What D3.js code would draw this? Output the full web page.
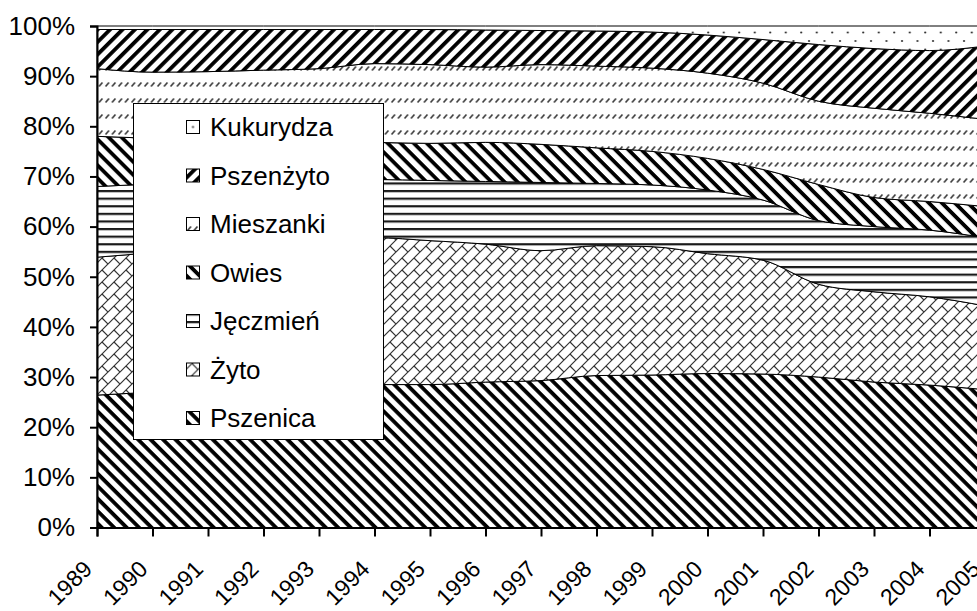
<!DOCTYPE html>
<html>
<head>
<meta charset="utf-8">
<script src="https://cdn.jsdelivr.net/npm/d3@7"></script>
<style>
  html, body { margin: 0; padding: 0; background: #ffffff; }
  svg { display: block; font-family: Arial, "Liberation Sans", sans-serif; }
</style>
</head>
<body>
<div id="chart"></div>
<script>
const years = [1989, 1990, 1991, 1992, 1993, 1994, 1995, 1996, 1997, 1998, 1999, 2000, 2001, 2002, 2003, 2004, 2005];

// shares of each crop in the total sown area, %
const pszenica  = [26.4, 27.0, 27.6, 28.0, 28.3, 28.5, 28.5, 29.0, 29.3, 30.3, 30.4, 30.7, 30.6, 30.0, 29.0, 28.4, 27.5];
const zyto      = [27.5, 27.8, 28.1, 28.5, 28.9, 29.3, 28.7, 27.5, 25.9, 25.9, 25.6, 23.9, 22.7, 18.5, 18.0, 17.6, 16.7];
const jeczmien  = [14.1, 13.7, 13.3, 12.8, 12.2, 11.6, 12.0, 12.5, 13.6, 12.4, 12.3, 12.7, 12.0, 12.7, 13.0, 13.3, 13.6];
const owies     = [10.0, 9.1, 8.3, 7.9, 7.6, 7.4, 7.4, 7.8, 7.6, 7.1, 6.7, 6.3, 6.1, 7.2, 5.8, 5.7, 6.2];
const mieszanki = [13.5, 13.2, 13.6, 14.0, 14.5, 15.7, 15.7, 15.0, 15.9, 16.3, 16.6, 17.0, 17.2, 16.6, 17.8, 17.6, 17.4];
const pszenzyto = [7.8, 8.5, 8.4, 8.1, 7.8, 6.8, 7.0, 7.4, 6.8, 7.0, 7.2, 7.6, 8.7, 11.3, 11.9, 12.5, 14.6];
const kukurydza = [0.7, 0.7, 0.7, 0.7, 0.7, 0.7, 0.7, 0.8, 0.9, 1.0, 1.2, 1.8, 2.7, 3.7, 4.5, 4.9, 4.0];

const seriesNames = ['Pszenica', 'Żyto', 'Jęczmień', 'Owies', 'Mieszanki', 'Pszenżyto', 'Kukurydza'];
const seriesValues = [pszenica, zyto, jeczmien, owies, mieszanki, pszenzyto, kukurydza];
const patternIds = ['p-pszenica', 'p-zyto', 'p-jeczmien', 'p-owies', 'p-mieszanki', 'p-pszenzyto', 'p-kukurydza'];
const yTicks = [0, 0.1, 0.2, 0.3, 0.4, 0.5, 0.6, 0.7, 0.8, 0.9, 1];

const width = 977;
const height = 611;
const x0 = 97, x1 = 985;      // 2005 sits just past the right edge, as in the picture
const yTop = 26, yBottom = 527.5;
const FONT = 26;
const X_FONT = 23;

const rows = years.map((yr, i) => {
    const row = { year: yr };
    seriesNames.forEach((name, k) => { row[name] = seriesValues[k][i]; });
    return row;
});

const svg = d3.select('#chart').append('svg')
    .attr('width', width)
    .attr('height', height)
    .attr('viewBox', `0 0 ${width} ${height}`);

svg.append('rect').attr('width', width).attr('height', height).attr('fill', '#fff');

// pattern fills
const defs = svg.append('defs');

function stripePattern(id, angle, period, thick) {
    const p = defs.append('pattern')
        .attr('id', id)
        .attr('patternUnits', 'userSpaceOnUse')
        .attr('width', period)
        .attr('height', period)
        .attr('patternTransform', `rotate(${angle})`);
    p.append('rect').attr('width', period).attr('height', period).attr('fill', '#fff');
    p.append('rect').attr('y', 0).attr('width', period).attr('height', thick).attr('fill', '#000');
}

stripePattern('p-pszenica', 45, 8.8, 3.8);
stripePattern('p-owies', 45, 9.2, 3.8);
stripePattern('p-pszenzyto', -45, 8.8, 3.8);

const pj = defs.append('pattern')
    .attr('id', 'p-jeczmien')
    .attr('patternUnits', 'userSpaceOnUse')
    .attr('width', 20).attr('height', 7.6);
pj.append('rect').attr('width', 20).attr('height', 7.6).attr('fill', '#fff');
pj.append('rect').attr('y', 0).attr('width', 20).attr('height', 2.2).attr('fill', '#1a1a1a');

const pz = defs.append('pattern')
    .attr('id', 'p-zyto')
    .attr('patternUnits', 'userSpaceOnUse')
    .attr('width', 12).attr('height', 12);
pz.append('rect').attr('width', 12).attr('height', 12).attr('fill', '#fff');
pz.append('path')
    .attr('d', 'M0,12 L12,0 M-1,1 L1,-1 M11,13 L13,11 M6,6 L12,12')
    .attr('stroke', '#333').attr('stroke-width', 1.2).attr('fill', 'none');

const pm = defs.append('pattern')
    .attr('id', 'p-mieszanki')
    .attr('patternUnits', 'userSpaceOnUse')
    .attr('width', 6.5).attr('height', 16);
pm.append('rect').attr('width', 6.5).attr('height', 16).attr('fill', '#fff');
pm.append('path')
    .attr('d', 'M1.5,6.5 L5,2.5')
    .attr('stroke', '#333').attr('stroke-width', 1.5).attr('fill', 'none');

const pk = defs.append('pattern')
    .attr('id', 'p-kukurydza')
    .attr('patternUnits', 'userSpaceOnUse')
    .attr('width', 15.5).attr('height', 17);
pk.append('rect').attr('width', 15.5).attr('height', 17).attr('fill', '#fff');
pk.append('circle').attr('cx', 3).attr('cy', 7).attr('r', 1.1).attr('fill', '#333');
pk.append('circle').attr('cx', 10.75).attr('cy', 15.5).attr('r', 1.1).attr('fill', '#333');

// the corn swatch in the legend shows a single centred dot
const pkLeg = defs.append('pattern')
    .attr('id', 'p-kukurydza-leg')
    .attr('patternUnits', 'objectBoundingBox')
    .attr('width', 1).attr('height', 1);
pkLeg.append('rect').attr('width', 13).attr('height', 13).attr('fill', '#fff');
pkLeg.append('circle').attr('cx', 6.5).attr('cy', 6.5).attr('r', 1.1).attr('fill', '#333');

// scales
const xScale = d3.scaleLinear().domain([1989, 2005]).range([x0, x1]);
const yScale = d3.scaleLinear().domain([0, 1]).range([yBottom, yTop]);

const stack = d3.stack()
    .keys(seriesNames)
    .offset(d3.stackOffsetExpand);
const layers = stack(rows);

const area = d3.area()
    .curve(d3.curveMonotoneX)
    .x((d) => xScale(d.data.year))
    .y0((d) => yScale(d[0]))
    .y1((d) => yScale(d[1]));

svg.append('g')
    .selectAll('path')
    .data(layers)
    .join('path')
    .attr('d', area)
    .attr('fill', (d, i) => `url(#${patternIds[i]})`)
    .attr('stroke', '#000')
    .attr('stroke-width', 1);

// axes
const yAxis = svg.append('g')
    .attr('transform', `translate(${x0},0)`)
    .call(d3.axisLeft(yScale).tickValues(yTicks).tickFormat(d3.format('.0%')).tickSize(7).tickPadding(15));

const xAxis = svg.append('g')
    .attr('transform', `translate(0,${yBottom})`)
    .call(d3.axisBottom(xScale).tickValues(years).tickFormat(d3.format('d')).tickSize(9));

[yAxis, xAxis].forEach((ax) => {
    ax.select('.domain').attr('stroke', '#000').attr('stroke-width', 2);
    ax.selectAll('.tick line').attr('stroke', '#000').attr('stroke-width', 2);
    ax.selectAll('text').attr('fill', '#000').attr('font-size', FONT)
        .attr('font-family', 'Arial, "Liberation Sans", sans-serif');
});

xAxis.selectAll('.tick text')
    .attr('font-size', X_FONT)
    .attr('text-anchor', 'end')
    .attr('dy', null)
    .attr('y', null)
    .attr('transform', 'translate(-4,43) rotate(-45)');

// legend
const legend = svg.append('g');
legend.append('rect')
    .attr('x', 133.5).attr('y', 103.5)
    .attr('width', 250).attr('height', 336)
    .attr('fill', '#fff')
    .attr('stroke', '#000')
    .attr('stroke-width', 1);

const legendOrder = d3.range(seriesNames.length).reverse();
const item = legend.selectAll('g.item')
    .data(legendOrder)
    .join('g')
    .attr('class', 'item')
    .attr('transform', (d, i) => `translate(186,${127 + i * 48.5})`);

item.append('rect')
    .attr('x', 0.5).attr('y', -6.5)
    .attr('width', 13).attr('height', 13)
    .attr('fill', (k) => (seriesNames[k] === 'Kukurydza' ? 'url(#p-kukurydza-leg)' : `url(#${patternIds[k]})`))
    .attr('stroke', '#000')
    .attr('stroke-width', 1);

item.append('text')
    .attr('x', 24)
    .attr('y', 0)
    .attr('dy', '0.35em')
    .attr('font-size', FONT)
    .attr('fill', '#000')
    .text((k) => seriesNames[k]);
</script>
</body>
</html>
